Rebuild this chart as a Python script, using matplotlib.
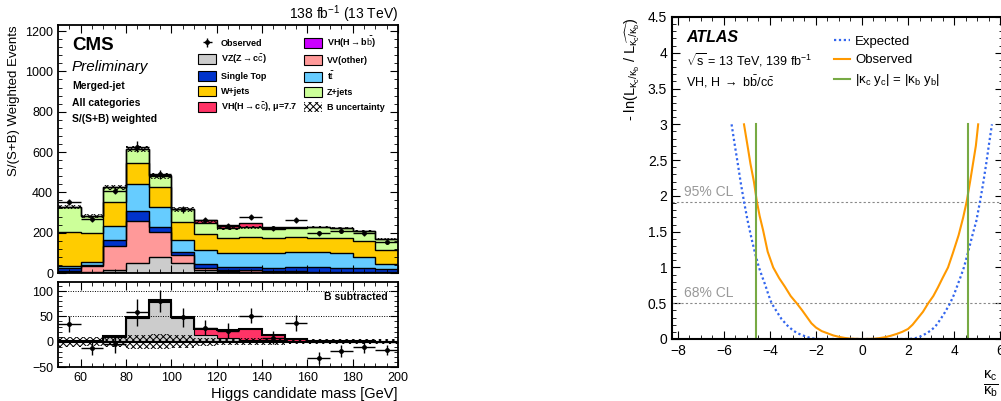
import numpy as np
import matplotlib.pyplot as plt
from matplotlib.patches import Patch
from matplotlib.ticker import MultipleLocator, FuncFormatter

plt.rcParams['font.family'] = ['Liberation Sans', 'DejaVu Sans']
plt.rcParams['mathtext.fontset'] = 'custom'
plt.rcParams['mathtext.rm'] = 'Liberation Sans'
plt.rcParams['mathtext.it'] = 'Liberation Sans:italic'
plt.rcParams['mathtext.bf'] = 'Liberation Sans:bold'
plt.rcParams['mathtext.default'] = 'regular'
plt.rcParams['hatch.linewidth'] = 0.7

# ---- CMS: Higgs candidate mass, 10 GeV bins from 50 to 200
edges = np.arange(50, 201, 10)
vh_bb = [3, 2, 4, 2, 2, 2, 3, 3, 3, 3, 3, 2, 2, 2, 1]
vz_cc = [1, 1, 10, 46, 79, 46, 14, 8, 4, 3, 1, 0, 0, 0, 0]
vv_other = [8, 32, 121, 211, 120, 40, 10, 4, 6, 5, 5, 4, 4, 3, 3]
single_top = [12, 4, 30, 50, 25, 18, 18, 13, 15, 16, 20, 22, 20, 18, 15]
ttbar = [9, 18, 68, 133, 100, 58, 67, 72, 73, 71, 77, 76, 71, 55, 25]
w_jets = [172, 141, 117, 102, 99, 89, 83, 73, 76, 74, 71, 71, 78, 79, 70]
z_jets = [121, 85, 75, 70, 56, 63, 55, 49, 50, 46, 46, 52, 47, 50, 54]
vh_cc = [1, 1, 2, 2, 3, 3, 11, 16, 22, 10, 4, 1, 1, 1, 0]
b_unc = [10, 9, 11, 14, 15, 13, 8, 7, 7, 7, 5, 5, 5, 5, 5]
observed = [351, 269, 408, 627, 490, 316, 263, 233, 276, 222, 264, 197, 210, 197, 156]
obs_err = [16, 14, 18, 26, 22, 18, 15, 14, 15, 13, 15, 12, 12, 12, 10]
b_subtracted = [35, -13, -5, 58, 80, 48, 28, 22, 51, 8, 37, -32, -18, -10, -16]

layers = [
    (vh_bb, '#cc00ff', r'VH(H$\rightarrow$b$\bar{\rm b}$)'),
    (vz_cc, '#cccccc', r'VZ(Z$\rightarrow$c$\bar{\rm c}$)'),
    (vv_other, '#ff9999', 'VV(other)'),
    (single_top, '#0033cc', 'Single Top'),
    (ttbar, '#66ccff', r't$\bar{\rm t}$'),
    (w_jets, '#ffcc00', 'W+jets'),
    (z_jets, '#ccff99', 'Z+jets'),
    (vh_cc, '#ff3366', r'VH(H$\rightarrow$c$\bar{\rm c}$), $\mu$=7.7'),
]

# ---- ATLAS: -ln L scan in kappa_c / kappa_b
exp_x = [-5.67, -5.55, -5.4, -5.27, -5.13, -4.97, -4.8, -4.65, -4.48, -4.35, -4.2, -4.07,
         -3.93, -3.7, -3.5, -3.25, -3.0, -2.8, -2.57, -2.4, -2.2, -1.9,
         0.0, 2.05, 2.3, 2.5, 2.75, 3.0, 3.2, 3.4, 3.6, 3.83, 4.0, 4.15, 4.3, 4.43,
         4.6, 4.8, 4.97, 5.13, 5.27, 5.4, 5.52, 5.65]
exp_y = [3.0, 2.75, 2.45, 2.18, 1.92, 1.65, 1.4, 1.2, 1.0, 0.88, 0.75, 0.62,
         0.5, 0.38, 0.28, 0.19, 0.12, 0.08, 0.05, 0.03, 0.01, 0.0,
         0.0, 0.0, 0.01, 0.03, 0.07, 0.12, 0.18, 0.27, 0.37, 0.5, 0.62, 0.75, 0.88, 1.0,
         1.2, 1.45, 1.65, 1.92, 2.18, 2.45, 2.72, 3.0]
obs_x = [-5.13, -4.95, -4.85, -4.7, -4.57, -4.45, -4.3, -4.1, -3.86, -3.6, -3.35, -3.1,
         -2.84, -2.6, -2.4, -2.2, -2.0, -1.75, -1.5, -1.25, -1.0, -0.75, -0.5,
         0.0, 0.5, 0.75, 1.0, 1.25, 1.5, 1.75, 2.0, 2.2, 2.4, 2.65, 2.88, 3.1, 3.3, 3.5,
         3.74, 3.95, 4.2, 4.4, 4.55, 4.7, 4.8, 4.95, 5.05]
obs_y = [3.0, 2.65, 2.45, 2.2, 1.92, 1.72, 1.52, 1.22, 1.0, 0.85, 0.73, 0.6,
         0.5, 0.4, 0.31, 0.22, 0.16, 0.11, 0.08, 0.05, 0.03, 0.015, 0.005,
         0.0, 0.003, 0.012, 0.025, 0.045, 0.07, 0.1, 0.14, 0.2, 0.28, 0.38, 0.5, 0.6,
         0.72, 0.85, 1.0, 1.2, 1.45, 1.7, 1.92, 2.2, 2.4, 2.7, 3.0]
mass_ratio = 4.6
cl_levels = [0.5, 1.92]
cl_labels = ['68% CL', '95% CL']

W, H = 1001, 401
fig = plt.figure(figsize=(W / 100, H / 100), dpi=100)


def box(l, t, r, b):
    return [l / W, 1 - b / H, (r - l) / W, (b - t) / H]


def fpos(x, y):
    return x / W, 1 - y / H


def root_ticks(ax, size):
    ax.tick_params(which='both', direction='in', top=True, right=True, labelsize=size)
    ax.tick_params(which='major', length=6)
    ax.tick_params(which='minor', length=3)
    for s in ax.spines.values():
        s.set_linewidth(1.3)


# ================= CMS upper panel
ax1 = fig.add_axes(box(58, 25, 398, 273))
centers = edges[:-1] + 5
cum = np.zeros(len(centers))
tops = []
for vals, col, lab in layers:
    cum = cum + np.array(vals)
    tops.append(cum.copy())
for (vals, col, lab), top in reversed(list(zip(layers, tops))):
    ax1.stairs(top, edges, baseline=0, fill=True, color=col)
for top in tops:
    ax1.stairs(top, edges, baseline=None, color='black', linewidth=1.0)
b_total = tops[-2]
ax1.bar(centers, 2 * np.array(b_unc), bottom=b_total - np.array(b_unc), width=10,
        facecolor='none', edgecolor='black', hatch='xxxxx', linewidth=0)
obs_h = ax1.errorbar(centers, observed, xerr=5, yerr=obs_err, fmt='o', color='black',
                     markersize=2.5, elinewidth=1, capsize=0)
ax1.set_xlim(50, 200)
ax1.set_ylim(0, 1230)
ax1.xaxis.set_major_locator(MultipleLocator(20))
ax1.xaxis.set_minor_locator(MultipleLocator(5))
ax1.yaxis.set_major_locator(MultipleLocator(200))
ax1.yaxis.set_minor_locator(MultipleLocator(40))
root_ticks(ax1, 9)
ax1.tick_params(axis='x', labelbottom=False)
ax1.set_ylabel('S/(S+B) Weighted Events', fontsize=9.5, loc='top', labelpad=4)

handles = [obs_h]
labels = ['Observed']
patches = {lab: Patch(facecolor=col, edgecolor='black', linewidth=0.8) for vals, col, lab in layers}
for i in [1, 3, 5, 7, 0, 2, 4, 6]:
    handles.append(patches[layers[i][2]])
    labels.append(layers[i][2])
handles.append(Patch(facecolor='white', edgecolor='black', hatch='xxxxx', linewidth=0))
labels.append('B uncertainty')
ax1.legend(handles, labels, ncol=2, loc='upper left', bbox_to_anchor=fpos(190, 27),
           bbox_transform=fig.transFigure, frameon=False,
           prop={'size': 6.5, 'weight': 'bold'}, handlelength=2.0, handleheight=1.3,
           labelspacing=0.55, columnspacing=0.8, handletextpad=0.5)

fig.text(*fpos(72, 45), 'CMS', fontsize=13.5, fontweight='bold', va='center')
fig.text(*fpos(72, 67), 'Preliminary', fontsize=11, style='italic', va='center')
fig.text(*fpos(72, 86), 'Merged-jet', fontsize=7.5, fontweight='bold', va='center')
fig.text(*fpos(72, 103), 'All categories', fontsize=7.5, fontweight='bold', va='center')
fig.text(*fpos(72, 119), 'S/(S+B) weighted', fontsize=7.5, fontweight='bold', va='center')
fig.text(*fpos(398, 14), r'138 fb$^{-1}$ (13 TeV)', fontsize=10, ha='right', va='center')

# ================= CMS lower panel
ax2 = fig.add_axes(box(58, 282, 398, 367))
sig_top = np.array(vz_cc) + np.array(vh_cc)
ax2.stairs(sig_top, edges, baseline=0, fill=True, color='#ff3366')
ax2.stairs(vz_cc, edges, baseline=0, fill=True, color='#cccccc')
ax2.stairs(vz_cc, edges, baseline=None, color='black', linewidth=0.8)
ax2.stairs(sig_top, edges, baseline=None, color='black', linewidth=1.5)
ax2.bar(centers, 2 * np.array(b_unc), bottom=-np.array(b_unc), width=10,
        facecolor='none', edgecolor='black', hatch='xxxxx', linewidth=0)
ax2.axhline(0, color='black', linewidth=1.5)
for yv in [50, 100]:
    ax2.axhline(yv, color='black', linewidth=0.7, linestyle=(0, (1, 1.5)))
ax2.errorbar(centers, b_subtracted, xerr=5, yerr=obs_err, fmt='o', color='black',
             markersize=2.5, elinewidth=1, capsize=0)
ax2.set_xlim(50, 200)
ax2.set_ylim(-50, 118)
ax2.xaxis.set_major_locator(MultipleLocator(20))
ax2.xaxis.set_minor_locator(MultipleLocator(5))
ax2.yaxis.set_major_locator(MultipleLocator(50))
ax2.yaxis.set_minor_locator(MultipleLocator(10))
root_ticks(ax2, 9)
ax2.set_xlabel('Higgs candidate mass [GeV]', fontsize=10.5, loc='right', labelpad=2)
ax2.text(0.97, 0.82, 'B subtracted', transform=ax2.transAxes, fontsize=7.5,
         fontweight='bold', ha='right', va='center')

# ================= ATLAS panel
ax3 = fig.add_axes(box(672, 17, 1003, 339))
ax3.set_xlim(-8.26, 6.13)
ax3.set_ylim(0, 4.5)
for lvl, lab in zip(cl_levels, cl_labels):
    ax3.axhline(lvl, color='#888888', linewidth=0.8, linestyle=(0, (2, 2)))
    ax3.text(-7.75, lvl + 0.04, lab, color='#999999', fontsize=10, va='bottom')
ax3.plot(exp_x, exp_y, color='#3366ee', linewidth=1.6, linestyle=(0, (1, 1.2)), label='Expected')
ax3.plot(obs_x, obs_y, color='#ff9900', linewidth=1.5, label='Observed')
ax3.plot([-mass_ratio, -mass_ratio], [0, 3.0], color='#77aa44', linewidth=1.5,
         label=r'|$\kappa_c$ y$_c$| = |$\kappa_b$ y$_b$|')
ax3.plot([mass_ratio, mass_ratio], [0, 3.0], color='#77aa44', linewidth=1.5)
ax3.legend(loc='upper left', bbox_to_anchor=fpos(822, 24), bbox_transform=fig.transFigure,
           frameon=False, fontsize=9.5, handlelength=1.2, handletextpad=0.4, labelspacing=0.45)
ax3.xaxis.set_major_locator(MultipleLocator(2))
ax3.xaxis.set_minor_locator(MultipleLocator(0.5))
ax3.yaxis.set_major_locator(MultipleLocator(0.5))
ax3.yaxis.set_minor_locator(MultipleLocator(0.1))
ax3.yaxis.set_major_formatter(FuncFormatter(lambda v, p: '%g' % v))
ax3.tick_params(which='both', direction='in', top=True, right=True, labelsize=10)
ax3.tick_params(which='major', length=6)
ax3.tick_params(which='minor', length=3)
for s in ax3.spines.values():
    s.set_linewidth(1.5)
ax3.set_ylabel(r'- ln(L$_{\kappa_c/\kappa_b}$ / L$_{\widehat{\kappa_c/\kappa_b}}$)',
               fontsize=10.5, loc='top', labelpad=4)
fig.text(*fpos(983, 384), r'$\frac{\kappa_c}{\kappa_b}$', fontsize=15, ha='left', va='center')
fig.text(*fpos(686, 38), 'ATLAS', fontsize=11.5, fontweight='bold', style='italic', va='center')
fig.text(*fpos(686, 60), r'$\sqrt{s}$ = 13 TeV, 139 fb$^{-1}$', fontsize=9, va='center')
fig.text(*fpos(686, 82), r'VH, H $\rightarrow$ b$\bar{\rm b}$/c$\bar{\rm c}$', fontsize=9, va='center')

fig.savefig('out.png', dpi=100)
